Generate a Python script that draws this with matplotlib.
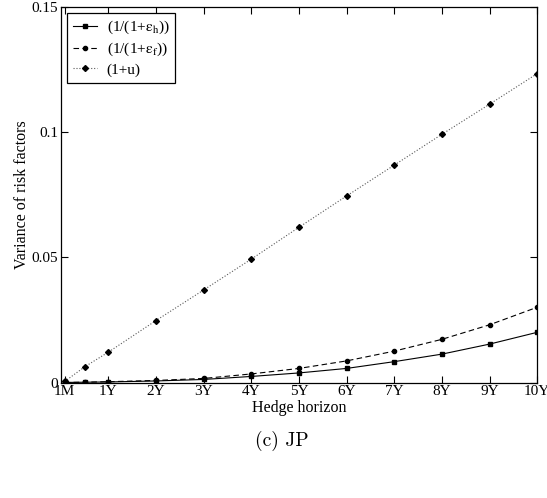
import numpy as np
import matplotlib.pyplot as plt

plt.rcParams['font.family'] = ['Liberation Serif', 'DejaVu Serif']
plt.rcParams['mathtext.fontset'] = 'stix'

# hedge horizon in years: 1M, 6M, 1Y ... 10Y
horizon = [1 / 12, 0.5, 1, 2, 3, 4, 5, 6, 7, 8, 9, 10]
tick_pos = [1 / 12, 1, 2, 3, 4, 5, 6, 7, 8, 9, 10]
tick_labels = ['1M', '1Y', '2Y', '3Y', '4Y', '5Y', '6Y', '7Y', '8Y', '9Y', '10Y']

var_eps_h = [0.0001, 0.0002, 0.0003, 0.0007, 0.0013, 0.0025, 0.0039, 0.0057,
             0.0084, 0.0114, 0.0154, 0.0201]
var_eps_f = [0.0001, 0.0002, 0.0004, 0.0009, 0.0017, 0.0035, 0.0057, 0.0087,
             0.0126, 0.0173, 0.0231, 0.0301]
var_u = [0.0005, 0.0063, 0.0122, 0.0248, 0.0370, 0.0493, 0.0620, 0.0745,
         0.0868, 0.0991, 0.1111, 0.1233]

fig = plt.figure(figsize=(5.47, 4.98), dpi=100)
ax = fig.add_axes([0.111, 0.2315, 0.871, 0.755])

ax.plot(horizon, var_eps_h, '-', color='black', lw=0.8, marker='s', ms=2.5,
        label=r'(1/(1+$\mathrm{\epsilon}_{\mathrm{h}}$))')
ax.plot(horizon, var_eps_f, '--', color='black', lw=0.8, marker='o', ms=3,
        dashes=(5, 3), label=r'(1/(1+$\mathrm{\epsilon}_{\mathrm{f}}$))')
ax.plot(horizon, var_u, ':', color='0.35', lw=0.8, marker='D', ms=3,
        mfc='black', mec='black', label='(1+u)')

ax.set_xlim(0, 10)
ax.set_ylim(0, 0.15)
ax.set_xticks(tick_pos)
ax.set_xticklabels(tick_labels)
ax.set_yticks([0, 0.05, 0.1, 0.15])
ax.set_yticklabels(['0', '0.05', '0.1', '0.15'])
ax.tick_params(direction='in', top=True, right=True, length=5, width=0.8,
               labelsize=11, pad=2)
for s in ax.spines.values():
    s.set_linewidth(0.9)

ax.set_xlabel('Hedge horizon', fontsize=11.5, labelpad=1)
ax.set_ylabel('Variance of risk factors', fontsize=11.5, labelpad=1)

leg = ax.legend(loc='upper left', fontsize=11, handlelength=1.6,
                fancybox=False, edgecolor='black', framealpha=1,
                borderaxespad=0.4, labelspacing=0.3, handletextpad=0.6)
leg.get_frame().set_linewidth(0.9)

fig.text(0.515, 0.115, '(c) JP', ha='center', va='center', fontsize=14,
         family=['cmr10', 'DejaVu Serif'])

fig.savefig('out.png', dpi=100)
